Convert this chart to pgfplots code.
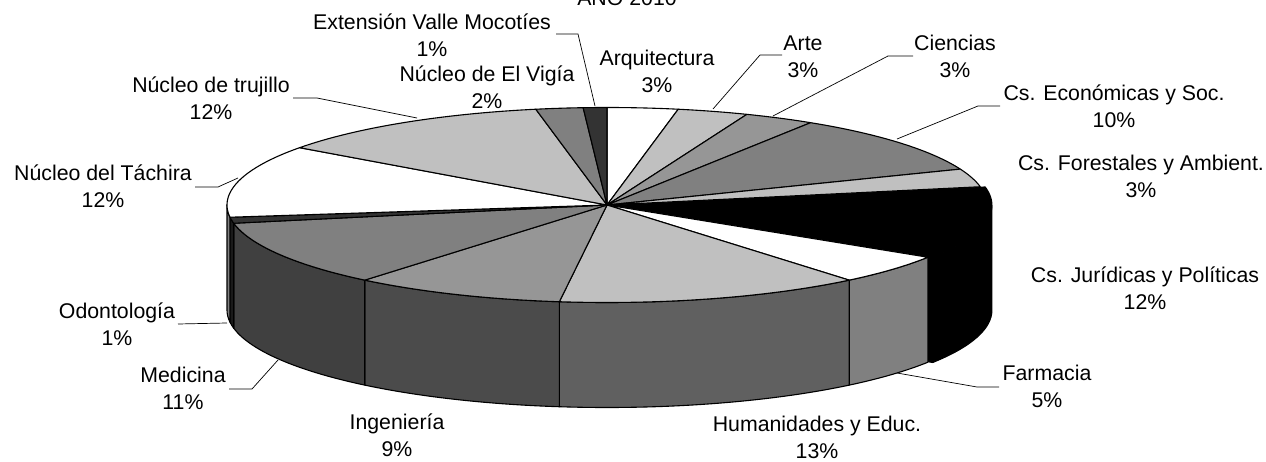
\documentclass[border=0pt]{standalone}
\usepackage{pgfplots}
\pgfplotsset{compat=1.18}
\usepackage{fontspec}
\setmainfont{Liberation Sans}

% geometry of the 3-D pie (pixels of the reference)
\def\Rx{380}
\def\Ry{97.5}
\def\D{105}

% shares (percent), clockwise from 12 o'clock
\def\pArq{3}   % Arquitectura
\def\pArte{3}  % Arte
\def\pCie{3}   % Ciencias
\def\pEco{10}  % Cs. Economicas y Soc.
\def\pFor{3}   % Cs. Forestales y Ambient.
\def\pJur{12}  % Cs. Juridicas y Politicas
\def\pFar{5}   % Farmacia
\def\pHum{13}  % Humanidades y Educ.
\def\pIng{9}   % Ingenieria
\def\pMed{11}  % Medicina
\def\pOdo{1}   % Odontologia
\def\pTac{12}  % Nucleo del Tachira
\def\pTru{12}  % Nucleo de trujillo
\def\pVig{2}   % Nucleo de El Vigia
\def\pVal{1}   % Extension Valle Mocoties

\pgfmathsetmacro\bO{90}
\pgfmathsetmacro\bA{\bO-3.6*\pArq}
\pgfmathsetmacro\bB{\bA-3.6*\pArte}
\pgfmathsetmacro\bC{\bB-3.6*\pCie}
\pgfmathsetmacro\bD{\bC-3.6*\pEco}
\pgfmathsetmacro\bE{\bD-3.6*\pFor}
\pgfmathsetmacro\bF{\bE-3.6*\pJur}
\pgfmathsetmacro\bG{\bF-3.6*\pFar}
\pgfmathsetmacro\bH{\bG-3.6*\pHum}
\pgfmathsetmacro\bI{\bH-3.6*\pIng}
\pgfmathsetmacro\bJ{\bI-3.6*\pMed}
\pgfmathsetmacro\bK{\bJ-3.6*\pOdo}
\pgfmathsetmacro\bL{\bK-3.6*\pTac}
\pgfmathsetmacro\bM{\bL-3.6*\pTru}
\pgfmathsetmacro\bN{\bM-3.6*\pVig}
\pgfmathsetmacro\bP{\bN-3.6*\pVal}
% explosion of Cs. Juridicas
\pgfmathsetmacro\mJ{(\bE+\bF)/2}
\pgfmathsetmacro\ox{5*cos(\mJ)}
\pgfmathsetmacro\oy{5*sin(\mJ)*\Ry/\Rx}
\pgfmathsetmacro\oyb{\oy-\D}

\definecolor{cW}{HTML}{FFFFFF}
\definecolor{cL}{HTML}{C0C0C0}
\definecolor{cM}{HTML}{969696}
\definecolor{cG}{HTML}{808080}
\definecolor{cDk}{HTML}{333333}
\definecolor{sW}{HTML}{808080}
\definecolor{sL}{HTML}{606060}
\definecolor{sM}{HTML}{4B4B4B}
\definecolor{sG}{HTML}{404040}
\definecolor{sDk}{HTML}{1A1A1A}

\newcommand\lab{\fontsize{21.3}{27}\selectfont}

\newcommand\topface[5]{%
  \addplot[fill=#3, draw=black, line width=1.1pt, line join=round, domain=#1:#2, samples=80, variable=\t]
    ({#4+\Rx*cos(\t)}, {#5+\Ry*sin(\t)}) -- (#4,#5) -- cycle;}
\newcommand\wall[5]{%
  \addplot[fill=#3, draw=black, line width=1.1pt, line join=round, domain=#1:#2, samples=80, variable=\t]
    ({#4+\Rx*cos(\t)}, {#5+\Ry*sin(\t)}) -- ++(0pt,-\D pt)
    arc[start angle=#2, end angle=#1, x radius=\Rx pt, y radius=\Ry pt] -- cycle;}

\begin{document}
\begin{tikzpicture}
\useasboundingbox (0,0) rectangle (1266pt,461pt);
\begin{axis}[
  at={(0,0)}, anchor=south west,
  x=1pt, y=1pt,
  xmin=-607, xmax=659, ymin=-256, ymax=205,
  hide axis, clip=false,
]
% exploded slice: Cs. Juridicas y Politicas
\addplot[fill=black, draw=black, line width=1.1pt, line join=round, domain=0:1, samples=2, variable=\t]
  ({\ox+\t*\Rx*cos(\bF)}, {\oy+\t*\Ry*sin(\bF)}) -- ++(0pt,-\D pt) -- (\ox,\oyb) -- cycle;
\wall{\bF}{0}{black}{\ox}{\oy}
\topface{\bF}{\bE}{black}{\ox}{\oy}
% side walls (front half)
\wall{\bG}{\bF}{sW}{0}{0}
\wall{\bH}{\bG}{sL}{0}{0}
\wall{\bI}{\bH}{sM}{0}{0}
\wall{\bJ}{\bI}{sG}{0}{0}
\wall{\bK}{\bJ}{sDk}{0}{0}
\wall{-180}{\bK}{sW}{0}{0}
% top faces
\topface{\bA}{\bO}{cW}{0}{0}
\topface{\bB}{\bA}{cL}{0}{0}
\topface{\bC}{\bB}{cM}{0}{0}
\topface{\bD}{\bC}{cG}{0}{0}
\topface{\bE}{\bD}{cL}{0}{0}
\topface{\bG}{\bF}{cW}{0}{0}
\topface{\bH}{\bG}{cL}{0}{0}
\topface{\bI}{\bH}{cM}{0}{0}
\topface{\bJ}{\bI}{cG}{0}{0}
\topface{\bK}{\bJ}{cDk}{0}{0}
\topface{\bL}{\bK}{cW}{0}{0}
\topface{\bM}{\bL}{cL}{0}{0}
\topface{\bN}{\bM}{cG}{0}{0}
\topface{\bP}{\bN}{cDk}{0}{0}

% leader lines
\addplot[black, line width=0.7pt] coordinates {(-51,171) (-29,171) (-12,99)};
\addplot[black, line width=0.7pt] coordinates {(-314,107) (-290,107) (-190,87)};
\addplot[black, line width=0.7pt] coordinates {(106,96) (153,150) (175,150)};
\addplot[black, line width=0.7pt] coordinates {(166,89) (281,149) (306,149)};
\addplot[black, line width=0.7pt] coordinates {(290,66) (371,99) (393,99)};
\addplot[black, line width=0.7pt] coordinates {(-412,18) (-389,18) (-369,27)};
\addplot[black, line width=0.7pt] coordinates {(-429,-119) (-380,-118)};
\addplot[black, line width=0.7pt] coordinates {(-378,-184) (-355,-184) (-329,-155)};
\addplot[black, line width=0.7pt] coordinates {(290,-168) (370,-182) (392,-182)};

% labels
\node[font=\lab, anchor=base, overlay] at (axis cs:20,199) {AÑO 2010};
\begin{scope}[every node/.style={font=\lab, align=center, inner sep=0pt}]
\node at (axis cs:-175,170) {Extensión Valle Mocotíes\\1\%};
\node at (axis cs:-120,117.5) {Núcleo de El Vigía\\2\%};
\node at (axis cs:50,133.5) {Arquitectura\\3\%};
\node at (axis cs:196,148) {Arte\\3\%};
\node at (axis cs:348,148.5) {Ciencias\\3\%};
\node at (axis cs:507,99) {Cs. Económicas y Soc.\\10\%};
\node at (axis cs:534,28.5) {Cs. Forestales y Ambient.\\3\%};
\node at (axis cs:538,-83.5) {Cs. Jurídicas y Políticas\\12\%};
\node at (axis cs:440,-181.5) {Farmacia\\5\%};
\node at (axis cs:210,-232) {Humanidades y Educ.\\13\%};
\node at (axis cs:-210,-230) {Ingeniería\\9\%};
\node at (axis cs:-424,-183.5) {Medicina\\11\%};
\node at (axis cs:-490,-119) {Odontología\\1\%};
\node at (axis cs:-504,18.5) {Núcleo del Táchira\\12\%};
\node at (axis cs:-396,106.5) {Núcleo de trujillo\\12\%};
\end{scope}
\end{axis}
\end{tikzpicture}
\end{document}
